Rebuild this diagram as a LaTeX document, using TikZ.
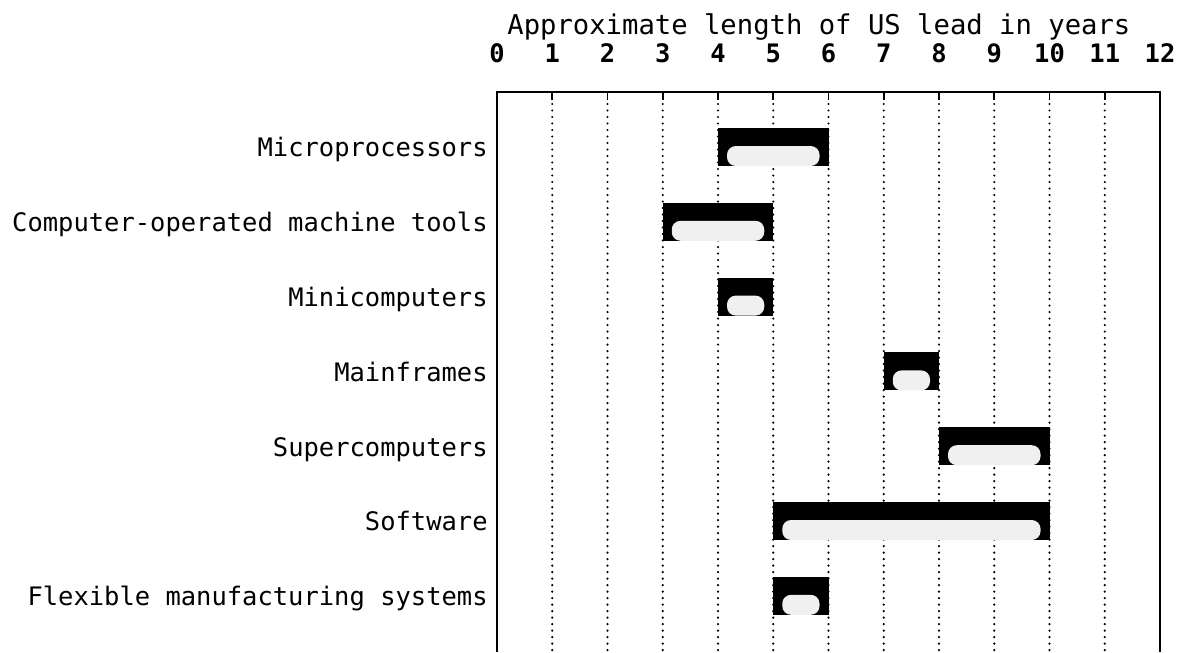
\documentclass[tikz,border=0pt]{standalone}
\usepackage{fontspec}
\setmonofont{DejaVu Sans Mono}

\begin{document}
\begin{tikzpicture}[x=0.02cm,y=-0.02cm,
  lbl/.style={font=\ttfamily\fontsize{14.5}{16}\selectfont,anchor=base east,inner sep=0pt},
  num/.style={font=\ttfamily\bfseries\fontsize{14.5}{16}\selectfont,anchor=base,inner sep=0pt},
  gridline/.style={line width=1.4pt,line cap=round,dash pattern=on 0pt off 3.7pt},
  speck/.style={fill=gray!12,rounded corners=5pt}]
\useasboundingbox (0,0) rectangle (1179,652);
\node[font=\ttfamily\fontsize{15.5}{17}\selectfont,anchor=base west,inner sep=0pt] (title) at (507,35) {Approximate length of US lead in years};
\foreach \k in {0,...,12}
  \node[num] (t\k) at (497+55.25*\k,63) {\k};
\foreach \k in {1,...,11} {
  \draw[line width=1.1pt] (497+55.25*\k,92)--(497+55.25*\k,100);
  \draw[gridline] (497+55.25*\k,104)--(497+55.25*\k,652);
}
\draw[line width=1.6pt] (497,652)--(497,92)--(1160,92)--(1160,652);
\node[lbl] (micro) at (488,156) {Microprocessors};
\node[lbl] (tools) at (488,231) {Computer-operated machine tools};
\node[lbl] (mini) at (488,306) {Minicomputers};
\node[lbl] (main) at (488,381) {Mainframes};
\node[lbl] (super) at (488,456) {Supercomputers};
\node[lbl] (soft) at (488,530) {Software};
\node[lbl] (fms) at (488,605) {Flexible manufacturing systems};
\foreach \a/\b/\r in {4/6/0,3/5/1,4/5/2,7/8/3,8/10/4,5/10/5,5/6/6} {
  \pgfmathsetmacro\xa{497+55.25*\a}
  \pgfmathsetmacro\xb{497+55.25*\b}
  \pgfmathsetmacro\yc{147+74.8*\r}
  \fill (\xa,\yc-19) rectangle (\xb,\yc+19);
  \fill[speck] (\xa+9,\yc+19) rectangle (\xb-9,\yc-1);
}
\end{tikzpicture}
\end{document}
